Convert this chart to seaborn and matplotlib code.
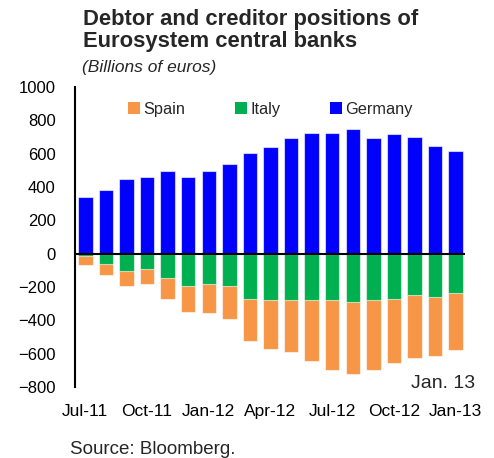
import matplotlib
matplotlib.use("Agg")
import matplotlib.pyplot as plt
from matplotlib.patches import Patch
import pandas as pd
import seaborn as sns

months = ["Jul-11", "Aug-11", "Sep-11", "Oct-11", "Nov-11", "Dec-11",
          "Jan-12", "Feb-12", "Mar-12", "Apr-12", "May-12", "Jun-12",
          "Jul-12", "Aug-12", "Sep-12", "Oct-12", "Nov-12", "Dec-12", "Jan-13"]
germany = [339, 384, 450, 460, 496, 460, 496, 538, 607, 639,
           693, 727, 727, 749, 693, 717, 703, 649, 616]
italy = [-14, -62, -104, -92, -146, -195, -182, -195, -269, -279,
         -279, -279, -279, -289, -279, -269, -249, -261, -237]
spain = [-56, -64, -87, -90, -124, -153, -176, -195, -257, -290,
         -310, -366, -420, -432, -420, -388, -375, -353, -343]
tick_labels = ["Jul-11", "Oct-11", "Jan-12", "Apr-12", "Jul-12", "Oct-12", "Jan-13"]

colors = {"Spain": "#F79646", "Italy": "#00B050", "Germany": "#0000FF"}

df = pd.DataFrame({"month": months, "Germany": germany, "Italy": italy, "Spain": spain})
df["neg_total"] = df["Italy"] + df["Spain"]

sns.set_style("white")
plt.rcParams["font.family"] = ["Liberation Sans", "DejaVu Sans"]

fig = plt.figure(figsize=(4.94, 4.58), dpi=100)
ax = fig.add_axes([0.152, 0.155, 0.789, 0.655])

bar_kw = dict(width=0.7, edgecolor=(1, 1, 1, 0.6), linewidth=0.8, ax=ax,
              order=months, saturation=1)
# Spain stacked below Italy: draw the combined negative first, Italy over it
sns.barplot(data=df, x="month", y="neg_total", color=colors["Spain"], **bar_kw)
sns.barplot(data=df, x="month", y="Italy", color=colors["Italy"], **bar_kw)
sns.barplot(data=df, x="month", y="Germany", color=colors["Germany"], **bar_kw)

ax.set_ylim(-800, 1000)
ax.set_xlim(-0.5, 18.45)
ax.set_yticks(range(-800, 1001, 200))
ax.set_xticks(range(0, 19, 3))
ax.set_xticklabels(tick_labels)
ax.set_xlabel("")
ax.set_ylabel("")

for s in ["top", "right", "bottom"]:
    ax.spines[s].set_visible(False)
ax.spines["left"].set_color("black")
ax.spines["left"].set_linewidth(1.5)
ax.axhline(0, color="black", lw=1.5, zorder=5)

ax.tick_params(axis="y", direction="in", length=5, width=1.2, pad=14, labelsize=12, colors="black")
ax.tick_params(axis="x", length=0, pad=12, labelsize=12.5, colors="black")
ax.grid(False)

handles = [Patch(facecolor=colors[k], edgecolor="none") for k in ["Spain", "Italy", "Germany"]]
ax.legend(handles, ["Spain", "Italy", "Germany"], ncol=3, frameon=False,
          loc="upper left", bbox_to_anchor=(128 / 494, 1 - 102 / 458),
          bbox_transform=fig.transFigure, borderpad=0, borderaxespad=0,
          handlelength=0.75, handleheight=0.75, handletextpad=0.2,
          columnspacing=3.0, fontsize=11.8)

fig.text(83 / 494, 1 - 9 / 458, "Debtor and creditor positions of\nEurosystem central banks",
         fontsize=15.8, fontweight="bold", va="top", ha="left", linespacing=1.05)
fig.text(82 / 494, 1 - 60 / 458, "(Billions of euros)", fontsize=12.5, style="italic",
         va="top", ha="left")
fig.text(475 / 494, 1 - 383 / 458, "Jan. 13", fontsize=14, ha="right", va="center")
fig.text(70 / 494, 1 - 450 / 458, "Source: Bloomberg.", fontsize=13.5, ha="left", va="center")

fig.savefig("out.png", dpi=100)
